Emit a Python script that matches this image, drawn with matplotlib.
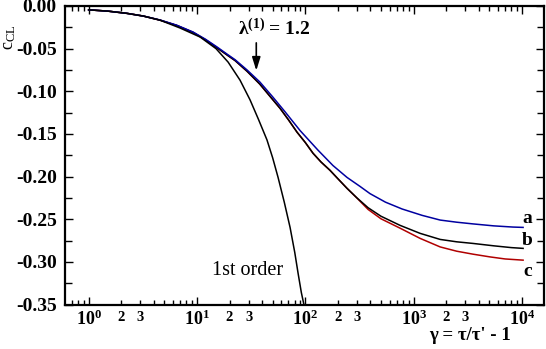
import matplotlib
matplotlib.use("Agg")
import matplotlib.pyplot as plt
from matplotlib.ticker import LogLocator, FixedLocator, FuncFormatter, MultipleLocator
import numpy as np

plt.rcParams["font.family"] = "Liberation Serif"
plt.rcParams["mathtext.fontset"] = "custom"
plt.rcParams["mathtext.rm"] = "Liberation Serif"
plt.rcParams["mathtext.it"] = "Liberation Serif:italic"
plt.rcParams["mathtext.bf"] = "Liberation Serif:bold"
plt.rcParams["axes.unicode_minus"] = False

# curve a (blue)
a_g = [1.0, 1.5, 2.25, 3.2, 4.56, 6.5, 9.2, 12, 15.3, 19, 22.5, 29, 38, 50, 65, 89.5, 131, 180, 243,
       320, 396, 550, 783, 1200, 1760, 2500, 3540, 5500, 8280, 10260]
a_c = [-0.0045, -0.006, -0.0086, -0.0118, -0.0164, -0.0225, -0.0305, -0.039, -0.048, -0.0565, -0.063,
       -0.075, -0.089, -0.1065, -0.124, -0.146, -0.169, -0.187, -0.201, -0.2115, -0.220, -0.230,
       -0.238, -0.2455, -0.251, -0.2535, -0.2555, -0.2578, -0.2592, -0.2596]

# curve b (black)
b_g = [1.0, 1.5, 2.25, 3.2, 4.56, 6.5, 9.2, 12, 15.3, 19, 22.5, 29, 38, 47.3, 58.5, 70, 84, 100, 118,
       140, 169, 200, 243, 300, 380, 500, 750, 1150, 1760, 2500, 3540, 5500, 8000, 10260]
b_c = [-0.0045, -0.006, -0.0086, -0.0118, -0.0166, -0.0228, -0.031, -0.0397, -0.049, -0.0575, -0.064,
       -0.0765, -0.0915, -0.106, -0.120, -0.1335, -0.148, -0.160, -0.1727, -0.183, -0.1926, -0.2025,
       -0.2138, -0.225, -0.2365, -0.2465, -0.2572, -0.2666, -0.2737, -0.2765, -0.2784, -0.2812,
       -0.2833, -0.2842]

# curve c (red)
c_g = [1.0, 1.5, 2.25, 3.2, 4.56, 6.5, 9.2, 12, 15.3, 19, 22.5, 29, 38, 47.3, 58.5, 70, 84, 100, 118,
       140, 169, 200, 243, 300, 380, 500, 750, 1150, 1760, 2500, 3540, 5080, 7000, 10260]
c_c = [-0.0045, -0.006, -0.0086, -0.0118, -0.0166, -0.0228, -0.031, -0.0397, -0.049, -0.0575, -0.064,
       -0.0765, -0.0915, -0.106, -0.120, -0.1335, -0.148, -0.160, -0.1727, -0.183, -0.1926, -0.2025,
       -0.2138, -0.2252, -0.2385, -0.2495, -0.2605, -0.2725, -0.2825, -0.2875, -0.2910, -0.2942,
       -0.2966, -0.2980]

# 1st order
f_g = [1.0, 1.5, 2.25, 3.2, 4.56, 6.98, 10.7, 15, 19.4, 25, 30.9, 37, 44.3, 50, 56.1, 64, 72.4, 80,
       85.9, 92, 97.5]
f_c = [-0.0045, -0.006, -0.0086, -0.0118, -0.0166, -0.0258, -0.0364, -0.050, -0.0658, -0.087, -0.110,
       -0.133, -0.157, -0.178, -0.201, -0.230, -0.2596, -0.289, -0.3136, -0.336, -0.351]

major_x = [1, 10, 100, 1000, 10000]
y_ticks = [0.00, -0.05, -0.10, -0.15, -0.20, -0.25, -0.30, -0.35]

fig = plt.figure(figsize=(5.46, 3.49), dpi=100)
ax = fig.add_axes([65 / 546, 1 - 304.5 / 349, (544 - 65) / 546, (304.5 - 6) / 349])

ax.plot(c_g, c_c, color="#b00000", lw=1.1)
ax.plot(b_g, b_c, color="black", lw=1.1)
ax.plot(a_g, a_c, color="#0000a0", lw=1.1)
ax.plot(f_g, f_c, color="black", lw=1.1)

ax.set_xscale("log")
ax.set_xlim(0.605, 16000)
ax.set_ylim(-0.35, 0.0)

ax.xaxis.set_major_locator(FixedLocator(major_x))
ax.xaxis.set_minor_locator(LogLocator(base=10, subs=range(2, 10), numticks=20))
ax.xaxis.set_major_formatter(FuncFormatter(lambda v, p: r"$\mathbf{10^{%d}}$" % round(np.log10(v))))


def minor_fmt(v, p):
    e = np.floor(np.log10(v) + 1e-9)
    m = round(v / 10 ** e)
    if m in (2, 3) and 0 <= e <= 3:
        return str(m)
    return ""


ax.xaxis.set_minor_formatter(FuncFormatter(minor_fmt))
ax.yaxis.set_major_locator(FixedLocator(y_ticks))
ax.yaxis.set_minor_locator(MultipleLocator(0.025))
ax.yaxis.set_major_formatter(FuncFormatter(lambda v, p: "%.2f" % v if abs(v) > 1e-9 else "0.00"))

ax.tick_params(which="both", direction="in", top=True, right=True, width=1)
ax.tick_params(which="major", length=6)
ax.tick_params(which="minor", length=3.5)
ax.tick_params(axis="y", which="minor", length=5)
ax.tick_params(axis="x", which="major", labelsize=13, pad=4)
ax.tick_params(axis="x", which="minor", labelsize=10.5, pad=5)
ax.tick_params(axis="y", labelsize=14, pad=6)
for lab in ax.get_yticklabels() + ax.get_xticklabels(which="minor"):
    lab.set_fontweight("bold")
for s in ax.spines.values():
    s.set_linewidth(1.6)

ax.annotate("", xy=(35.3, -0.079), xytext=(35.3, -0.040),
            arrowprops=dict(arrowstyle="-|>,head_length=0.8,head_width=0.25", color="black", lw=1.2))
ax.text(51.8, -0.027, r"$\mathbf{\lambda^{(1)}}$" + " = 1.2", ha="center", va="center",
        fontsize=14, fontweight="bold")
ax.text(29.6, -0.310, "1st order", ha="center", va="center", fontsize=14.5)
ax.text(11200, -0.249, "a", ha="center", va="center", fontsize=14, fontweight="bold")
ax.text(11200, -0.2748, "b", ha="center", va="center", fontsize=14, fontweight="bold")
ax.text(11200, -0.3113, "c", ha="center", va="center", fontsize=14, fontweight="bold")

fig.text(470 / 546, 1 - 336 / 349, "γ = τ/τ' - 1", ha="center", va="center", fontsize=13.5, fontweight="bold")
fig.text(9 / 546, 1 - 37 / 349, r"c$_{\mathrm{CL}}$", ha="center", va="center", rotation=90, fontsize=13)

fig.savefig("out.png", dpi=100)
